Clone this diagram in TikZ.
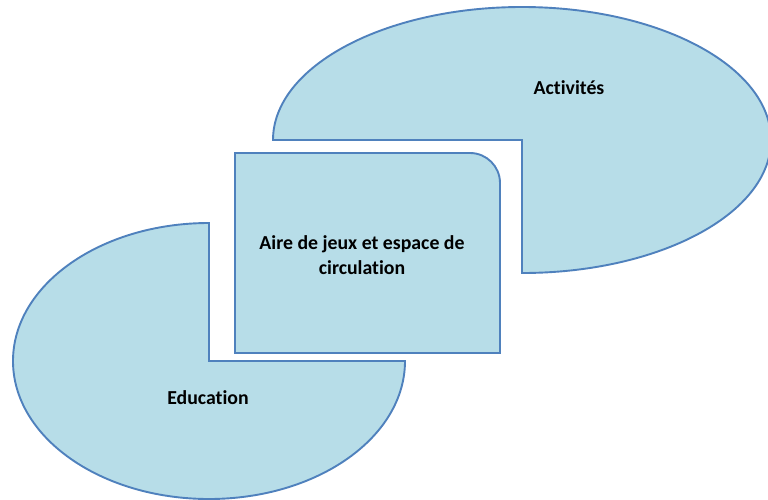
\documentclass[tikz,border=0pt]{standalone}
\usepackage{fontspec}
\setmainfont{Carlito}[Ligatures=NoCommon]
\definecolor{fillblue}{HTML}{B7DDE8}
\definecolor{lineblue}{HTML}{4F81BD}
\begin{document}
\begin{tikzpicture}[x=1pt,y=1pt,
  shapestyle/.style={fill=fillblue,draw=lineblue,line width=1.9pt,line join=miter},
  label/.style={font=\fontsize{19.8}{24.4}\selectfont\bfseries,text=black,inner sep=0pt,align=center}]
\useasboundingbox (0,0) rectangle (768,-499);
\fill[white] (0,0) rectangle (768,-499);
% top-right three-quarter ellipse
\draw[shapestyle] (522,-140) -- (273,-140) arc[start angle=180,end angle=-90,x radius=249,y radius=133] -- cycle;
% bottom-left three-quarter ellipse
\draw[shapestyle] (209,-361) -- (209,-223) arc[start angle=90,end angle=360,x radius=196,y radius=138] -- cycle;
% centre box with one rounded corner
\draw[shapestyle] (235,-353) -- (235,-153) -- (470,-153) arc[start angle=90,end angle=0,radius=30] -- (500,-353) -- cycle;
\node[label] (act) at (569,-88) {Activités};
\node[label] (edu) at (208,-398) {Education};
\node[label] (aire) at (362,-255) {Aire de jeux et espace de\\circulation};
\end{tikzpicture}
\end{document}
